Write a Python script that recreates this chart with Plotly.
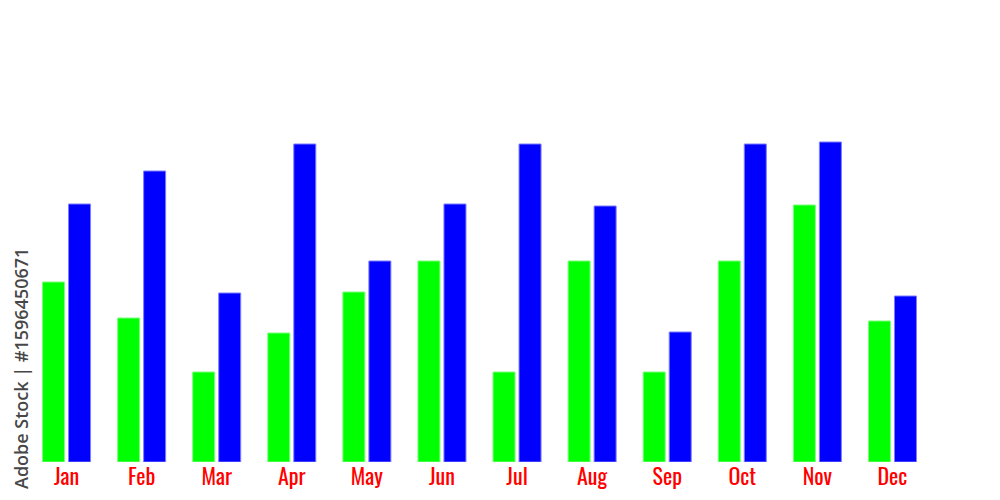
import plotly.graph_objects as go

months = ["Jan", "Feb", "Mar", "Apr", "May", "Jun", "Jul", "Aug", "Sep", "Oct", "Nov", "Dec"]
green_values = [180, 144, 90, 129, 170, 201, 90, 201, 90, 201, 257, 141]
blue_values = [258, 291, 169, 318, 201, 258, 318, 256, 130, 318, 320, 166]

# page has an 8px body margin; figure coordinates are offset accordingly
L, R, T, B = 21, 78, 0, 46
PW, PH = 1000 - L - R, 500 - T - B

fig = go.Figure()
fig.add_trace(go.Bar(x=months, y=green_values, name="Green",
                     marker=dict(color="#00ff00", line=dict(color="#7dff7d", width=1))))
fig.add_trace(go.Bar(x=months, y=blue_values, name="Blue",
                     marker=dict(color="#0000ff", line=dict(color="#7d7dff", width=1))))

fig.update_layout(
    width=1000, height=500,
    margin=dict(l=L, r=R, t=T, b=B),
    paper_bgcolor="white", plot_bgcolor="white",
    barmode="group", bargap=0.307, bargroupgap=0.154,
    showlegend=False,
    xaxis=dict(showgrid=False, zeroline=False, showline=False, ticks="",
               tickfont=dict(family="Oswald, 'Liberation Sans Narrow', 'DejaVu Sans Condensed', sans-serif",
                             size=22, color="#ff0000"),
               ticklabelstandoff=0),
    yaxis=dict(range=[0, PH], showgrid=False, zeroline=False, showline=False,
               showticklabels=False, ticks=""),
    annotations=[dict(text="Adobe Stock | #1596450671", textangle=-90,
                      xref="x domain", yref="y domain",
                      x=(13 - L) / PW, y=(PH - 361) / PH,
                      xanchor="center", yanchor="middle",
                      font=dict(family="Open Sans, sans-serif", size=18, color="#474747",
                                weight=600),
                      showarrow=False)],
)
fig.write_html("out.html")
